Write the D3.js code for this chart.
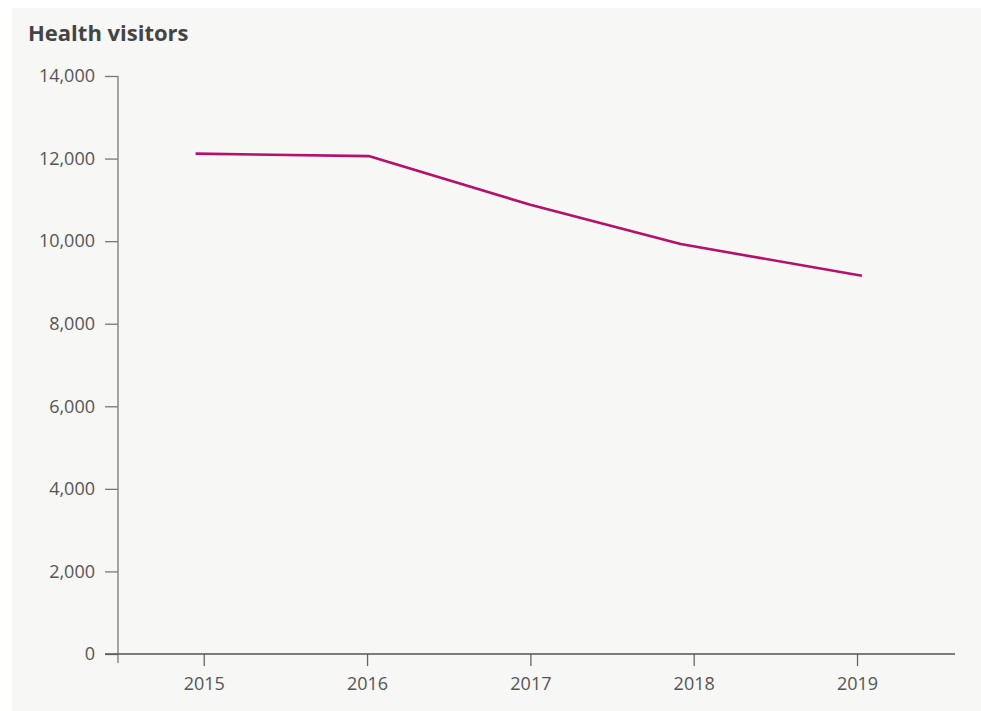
<!DOCTYPE html>
<html lang="en">
  <head>
    <meta charset="UTF-8" />
    <title>Health visitors</title>
    <style>
      body { margin: 0; background: #fff; }
      svg text { font-family: "Open Sans", "Noto Sans", sans-serif; }
    </style>
  </head>
  <body>
    <div id="chart">
      <svg width="981" height="711"></svg>
    </div>
    <script src="https://d3js.org/d3.v7.min.js"></script>
    <script>
      // data
      const years = [2015, 2016, 2017, 2018, 2019];
      const pointYears = [2014.95, 2016.01, 2017.0, 2017.92, 2019.03];
      const visitors = [12120, 12060, 10880, 9930, 9160];
      const yTicks = [0, 2000, 4000, 6000, 8000, 10000, 12000, 14000];

      var svg = d3.select("#chart>svg");
      var W = +svg.attr("width");
      var H = +svg.attr("height");

      svg.append("rect")
        .attr("x", 12).attr("y", 8)
        .attr("width", W - 12).attr("height", H - 8)
        .attr("fill", "#f7f7f5");

      svg.append("text")
        .attr("x", 28).attr("y", 41)
        .attr("fill", "#444")
        .attr("font-size", 22)
        .attr("font-weight", 700)
        .text("Health visitors");

      var x = d3.scaleLinear().domain([2014.475, 2019.6]).range([118, 955]);
      var y = d3.scaleLinear().domain([0, 14000]).range([654, 76]);

      var data = pointYears.map(function (d, i) {
        return { year: d, value: visitors[i] };
      });

      // y axis
      var gy = svg.append("g")
        .attr("transform", "translate(" + x.range()[0] + ",0)")
        .call(d3.axisLeft(y).tickValues(yTicks).tickFormat(d3.format(",")).tickSize(13).tickPadding(10));
      gy.select(".domain").remove();
      gy.selectAll(".tick line").attr("stroke", "#777").attr("stroke-width", 1.3);
      gy.selectAll(".tick text").attr("fill", "#555").attr("font-size", 18);
      svg.append("line")
        .attr("x1", x.range()[0]).attr("x2", x.range()[0])
        .attr("y1", y.range()[1]).attr("y2", y.range()[0] + 9)
        .attr("stroke", "#888").attr("stroke-width", 1.5);

      // x axis
      var gx = svg.append("g")
        .attr("transform", "translate(0," + y.range()[0] + ")")
        .call(d3.axisBottom(x).tickValues(years).tickFormat(d3.format("d")).tickSize(12).tickPadding(11));
      gx.select(".domain").remove();
      gx.selectAll(".tick line").attr("stroke", "#666").attr("stroke-width", 1.3);
      gx.selectAll(".tick text").attr("fill", "#555").attr("font-size", 18);
      svg.append("line")
        .attr("x1", x.range()[0] - 13).attr("x2", x.range()[1])
        .attr("y1", y.range()[0]).attr("y2", y.range()[0])
        .attr("stroke", "#555").attr("stroke-width", 1.3);

      var line = d3.line()
        .x(function (d) { return x(d.year); })
        .y(function (d) { return y(d.value); });

      svg.append("path")
        .datum(data)
        .attr("fill", "none")
        .attr("stroke", "#b5106a")
        .attr("stroke-width", 2.6)
        .attr("stroke-linejoin", "round")
        .attr("d", line);
    </script>
  </body>
</html>
